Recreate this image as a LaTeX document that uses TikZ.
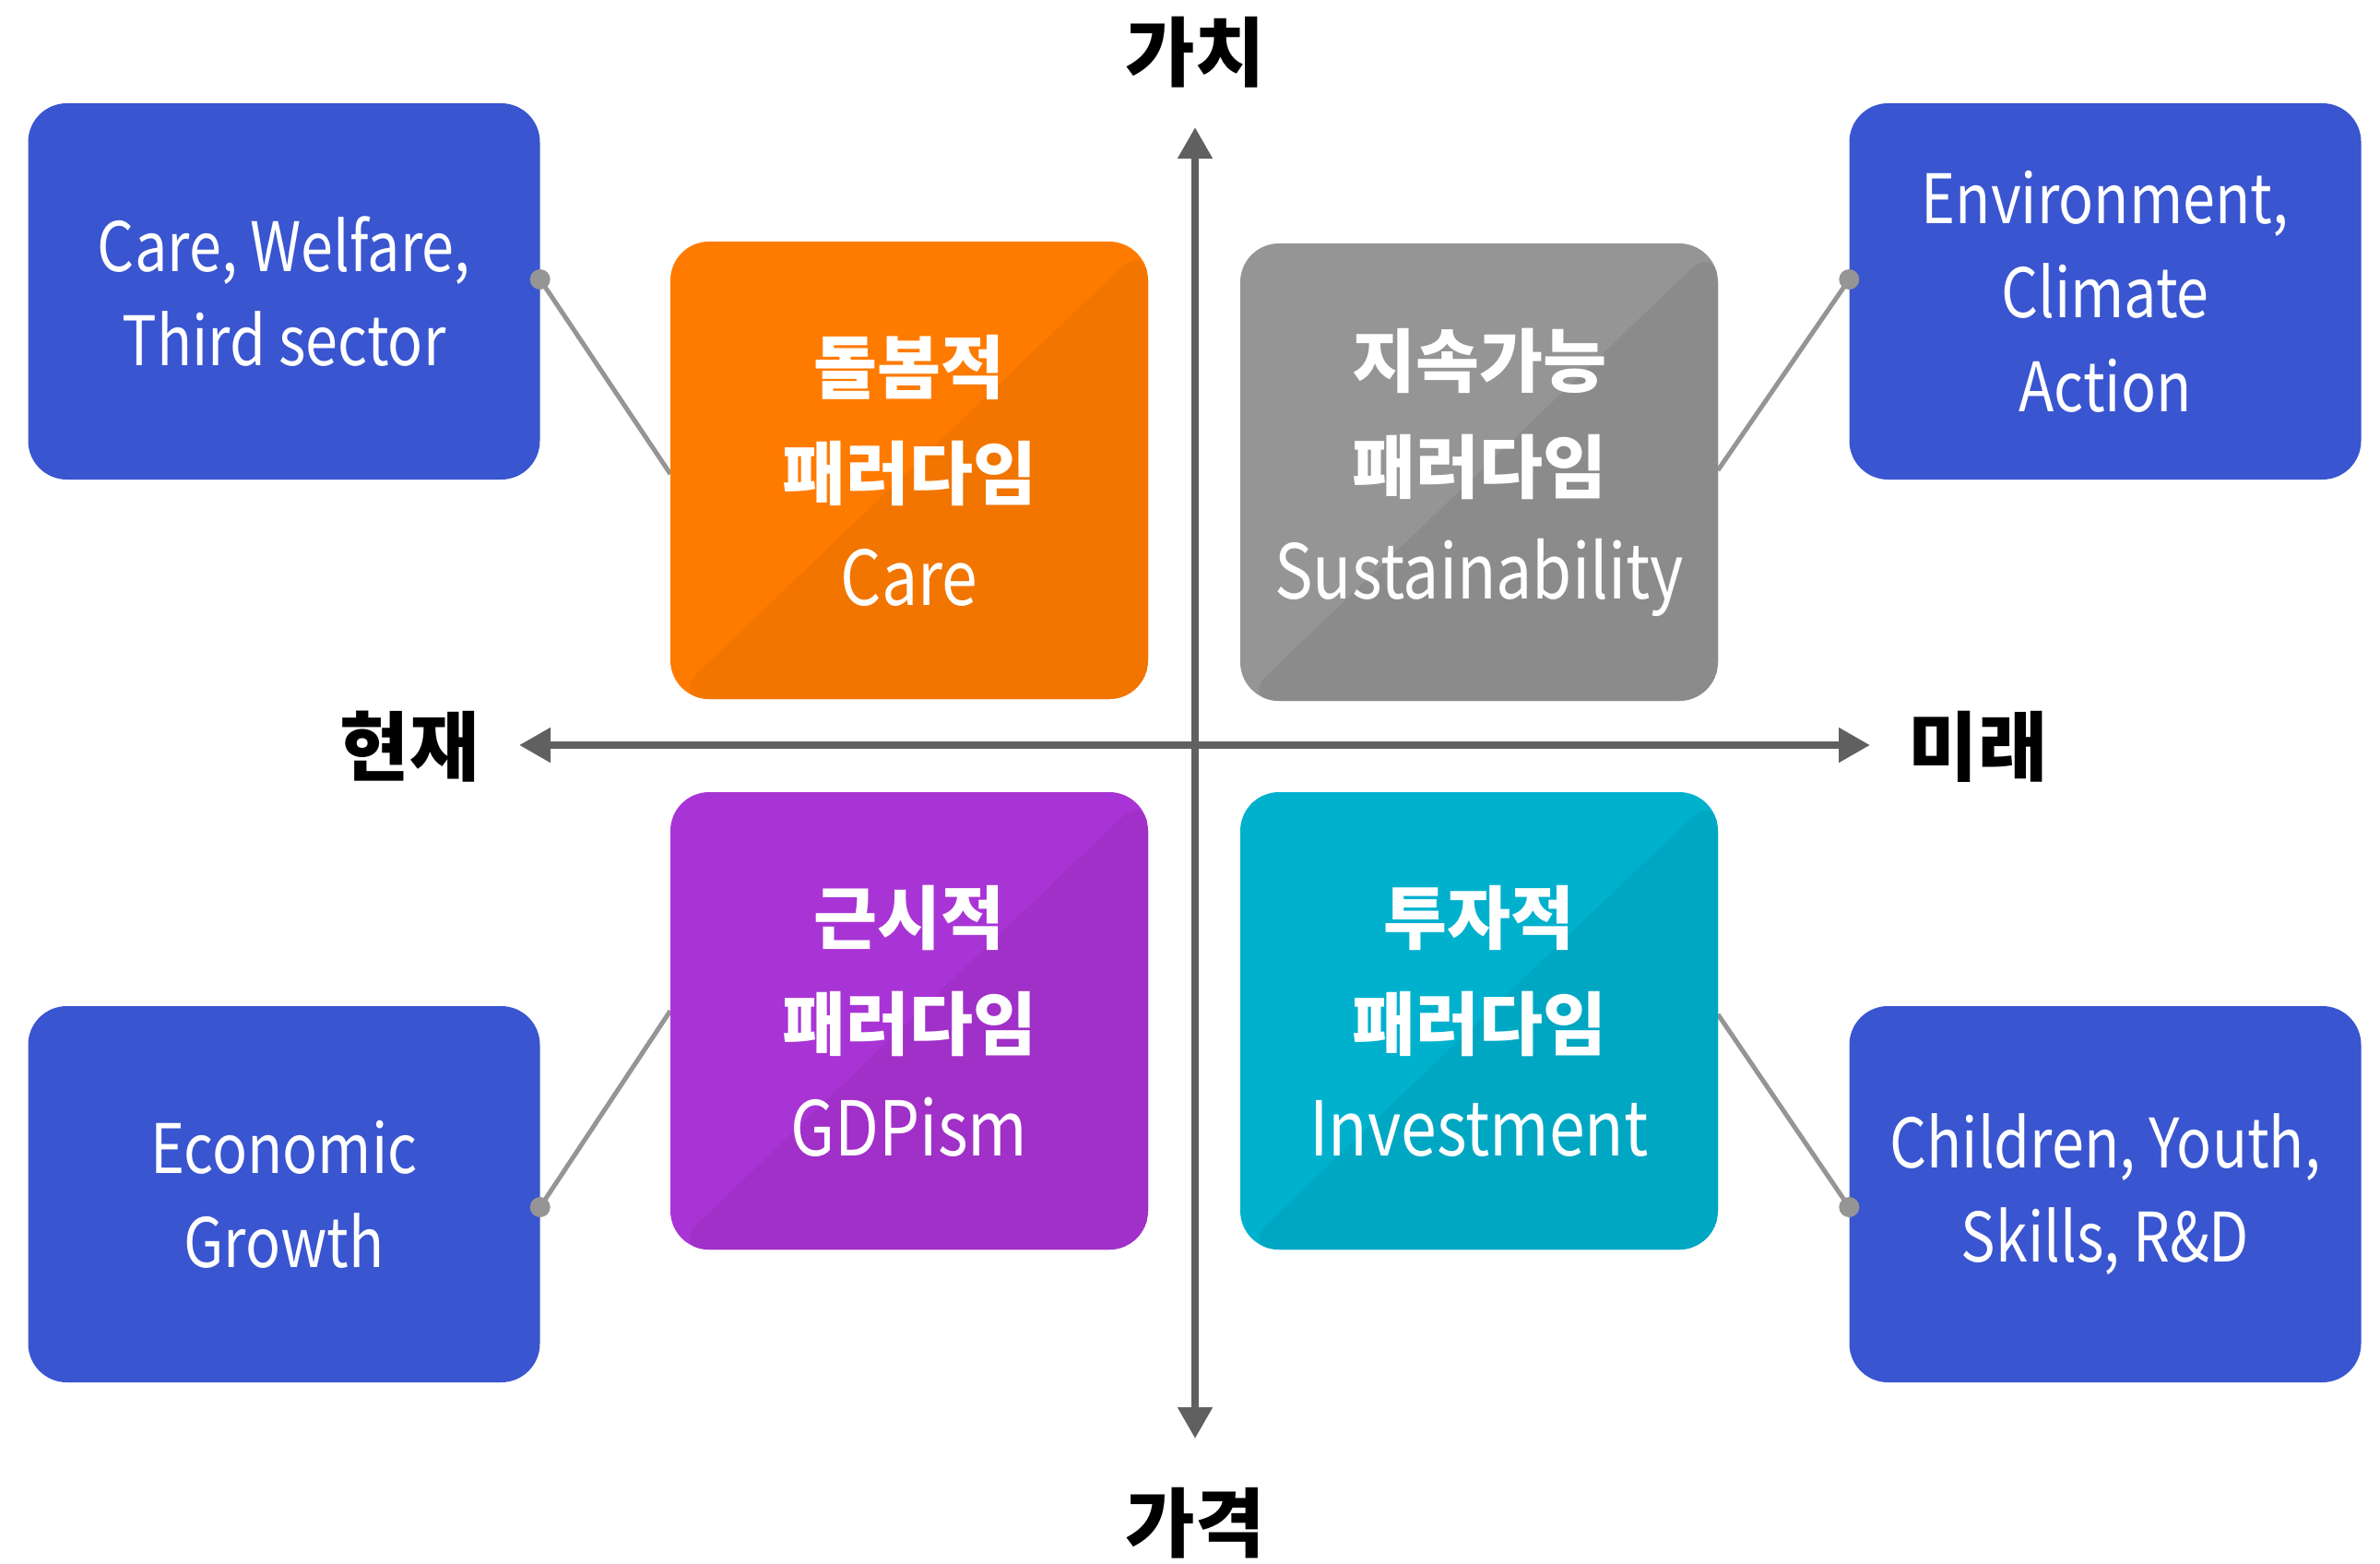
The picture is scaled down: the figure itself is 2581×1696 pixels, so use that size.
\documentclass[tikz,border=0pt]{standalone}
\usepackage{fontspec}
\setmainfont{Noto Sans CJK KR}
\newfontfamily\latinf[FakeStretch=0.85]{Noto Sans CJK KR}
\usetikzlibrary{arrows.meta,calc}
\definecolor{bluebox}{HTML}{3955D0}
\definecolor{orangeA}{HTML}{FF7B00}
\definecolor{orangeB}{HTML}{F27500}
\definecolor{grayA}{HTML}{959595}
\definecolor{grayB}{HTML}{8B8B8B}
\definecolor{purpleA}{HTML}{A934D5}
\definecolor{purpleB}{HTML}{A030C8}
\definecolor{tealA}{HTML}{00B1CE}
\definecolor{tealB}{HTML}{00A7C3}
\definecolor{axiscol}{HTML}{606060}
\definecolor{linkcol}{HTML}{959595}
\tikzset{
  topicbox/.style={fill=bluebox, rounded corners=42pt, minimum width=555pt, minimum height=408pt,
    text=white, align=center, inner sep=0pt, font=\latinf\fontsize{74}{102}\selectfont},
  quadbox/.style n args={2}{fill=#1, rounded corners=42pt, minimum width=518pt, minimum height=496pt,
    text=white, align=center, inner sep=0pt, font=\latinf\fontsize{82}{115}\selectfont,
    path picture={\fill[#2] (path picture bounding box.north east) -- (path picture bounding box.south west) -- (path picture bounding box.south east) -- cycle;}},
  axislabel/.style={font=\fontsize{82}{90}\selectfont\bfseries, text=black, inner sep=0pt},
  axisline/.style={draw=axiscol, line width=8pt, {Triangle[width=36pt,length=34pt]}-{Triangle[width=36pt,length=34pt]}},
  link/.style={draw=linkcol, line width=5pt},
  linkdot/.style={fill=linkcol}
}
\newcommand{\kb}[1]{{\normalfont\fontsize{75}{115}\selectfont\bfseries #1}}
\begin{document}
\begin{tikzpicture}[x=1pt,y=-1pt]
\useasboundingbox[fill=white] (0,0) rectangle (2581,1696);
% axes
\coordinate (vtop) at (1296,138);
\coordinate (vbot) at (1296,1560);
\coordinate (hleft) at (563,808);
\coordinate (hright) at (2028,808);
\draw[axisline] (vtop) -- (vbot);
\draw[axisline] (hleft) -- (hright);
\node[axislabel] (lv) at (1296,57) {가치};
\node[axislabel] (lp) at (1296,1652) {가격};
\node[axislabel] (lc) at (444,810) {현재};
\node[axislabel] (lf) at (2145,810) {미래};
% topic boxes
\node[topicbox] (tl) at (308,316) {Care, Welfare,\\Third sector};
\node[topicbox] (tr) at (2283,316) {Environment,\\Climate\\Action};
\node[topicbox] (bl) at (308,1295) {Economic\\Growth};
\node[topicbox] (br) at (2283,1295) {Children, Youth,\\Skills, R\&D};
% connector anchor points
\coordinate (dtl) at ($(tl.east)+(0,-13)$);
\coordinate (dtr) at ($(tr.west)+(0,-13)$);
\coordinate (dbl) at ($(bl.east)+(0,14)$);
\coordinate (dbr) at ($(br.west)+(0,14)$);
% connectors (under quadrant boxes)
\coordinate (ecare) at (727,514);
\coordinate (esus) at (1863,510);
\coordinate (egdp) at (727,1096);
\coordinate (einv) at (1863,1100);
\draw[link] (dtl) -- (ecare);
\draw[link] (dtr) -- (esus);
\draw[link] (dbl) -- (egdp);
\draw[link] (dbr) -- (einv);
\fill[linkdot] (dtl) circle (11pt);
\fill[linkdot] (dtr) circle (11pt);
\fill[linkdot] (dbl) circle (11pt);
\fill[linkdot] (dbr) circle (11pt);
% quadrant boxes
\node[quadbox={orangeA}{orangeB}] (care) at (986,510) {\kb{돌봄적}\\\kb{패러다임}\\Care};
\node[quadbox={grayA}{grayB}] (sus) at (1604,512) {\kb{지속가능}\\\kb{패러다임}\\Sustainability};
\node[quadbox={purpleA}{purpleB}] (gdp) at (986,1107) {\kb{근시적}\\\kb{패러다임}\\GDPism};
\node[quadbox={tealA}{tealB}] (inv) at (1604,1107) {\kb{투자적}\\\kb{패러다임}\\Investment};
\end{tikzpicture}
\end{document}
